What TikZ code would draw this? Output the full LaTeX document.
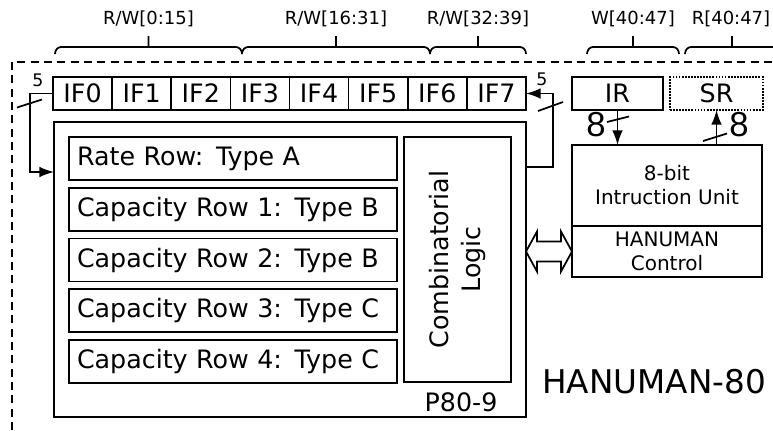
\documentclass[tikz,border=0pt]{standalone}
\usepackage{fontspec}
\setmainfont{DejaVu Sans}
\newfontfamily\busface{Liberation Sans}
\usetikzlibrary{arrows.meta, calc}
\newcommand{\rowfnt}{\fontsize{19}{24}\selectfont}
\newcommand{\labfnt}{\fontsize{13.5}{15}\selectfont}
\newcommand{\unitfnt}{\fontsize{15}{18}\selectfont}
\newcommand{\busfnt}{\busface\fontsize{26}{28}\selectfont}
\newcommand{\numfnt}{\fontsize{13}{14}\selectfont}
\newcommand{\titlefnt}{\fontsize{24.5}{28}\selectfont}

\begin{document}
\begin{tikzpicture}[x=0.75pt, y=-0.75pt,
      box/.style={draw, line width=1.3pt, inner sep=0pt, outer sep=0pt, font=\rowfnt},
      cell/.style={box, minimum width=44.34pt, minimum height=24.75pt},
      row/.style={box, minimum height=32.25pt, text width=234pt, inner xsep=6pt, align=left},
      unit/.style={box, minimum width=142.5pt, align=center, font=\unitfnt},
      lab/.style={font=\labfnt, inner sep=0pt},
      num/.style={font=\numfnt, inner sep=0pt},
      busw/.style={font=\busfnt, inner sep=0pt},
      ar/.style={-{Latex[length=11pt, width=8pt]}, line width=1.3pt},
      bus/.style={line width=1.3pt},
      brace/.style={line width=1.3pt},
      border/.style={dash pattern=on 6pt off 4pt, line width=1.1pt}
    ]
    \useasboundingbox (0,0) rectangle (773,430);

    % chip boundary
    \draw[border] (12,430) -- (12,62) -- (773,62);

    % address map
    \foreach \a/\b in {55/242, 242/430, 430/526, 587/679, 685/779}
      \draw[brace] (\a,54) to[out=90, in=180] (\a+6,47) -- (\b-6,47)
        to[out=0, in=90] (\b,54) ({(\a+\b)/2},47) -- ++(0,-11);
    \node[lab] (rw0) at (148.5,19) {R/W[0:15]};
    \node[lab] (rw1) at (336,19) {R/W[16:31]};
    \node[lab] (rw2) at (478,19) {R/W[32:39]};
    \node[lab] (w3) at (633,19) {W[40:47]};
    \node[lab] (r3) at (731,19) {R[40:47]};

    % interface registers
    \foreach \i in {0,...,7}
      \node[cell] (if\i) at ({82.56+59.125*\i},93.5) {IF\i};
    \node[cell, minimum width=68.25pt] (ir) at (617.5,93.5) {IR};
    \node[cell, minimum width=69.75pt, densely dotted] (sr) at (716.5,93.5) {SR};

    % P80-9 core
    \node[box, minimum width=354pt, minimum height=221.25pt] (p80) at (290,269.5) {};
    \foreach \i/\t in {0/Rate Row: Type A, 1/Capacity Row 1: Type B,
                       2/Capacity Row 2: Type B, 3/Capacity Row 3: Type C,
                       4/Capacity Row 4: Type C}
      \node[row] (row\i) at (233,{158.5+50.75*\i}) {\t};
    \node[box, rotate=90, minimum width=183.75pt, minimum height=80.25pt,
          align=center] (logic) at (457.5,259.5) {Combinatorial\\Logic};
    \node[box, draw=none] (p80lab) at (461,402) {P80-9};

    % instruction unit
    \node[unit, minimum height=60.75pt] (unit) at (667,185.5) {8-bit\\Intruction Unit};
    \node[unit, minimum height=38.25pt] (ctrl) at (667,251.5) {HANUMAN\\Control};

    \node[font=\titlefnt, inner sep=0pt] (title) at (654,382) {HANUMAN-80};

    % feedback buses
    \coordinate (lc) at (30,172);
    \draw[ar] (if0.west) -| (lc) -- (lc -| p80.west);
    \draw[bus] ($(lc |- if0.west)+(-13,14)$) -- ++(25,-8);
    \node[num] (n5l) at (38,80) {5};

    \coordinate (rc) at (553,167);
    \draw[ar] (rc -| p80.east) -- (rc) |- (if7.east);
    \draw[bus] ($(rc |- if7.east)+(-15,17.5)$) -- ++(25,-9);
    \node[num] (n5r) at (542,79) {5};

    % IR / SR buses
    \draw[ar] (ir.south) -- (ir.south |- unit.north);
    \draw[bus] (607,122) -- ++(22,-5.5);
    \node[busw] (n8l) at (596,125) {8};

    \draw[ar] (sr.south |- unit.north) -- (sr.south);
    \draw[bus] (703,141) -- ++(24,-7.5);
    \node[busw] (n8r) at (739,125) {8};

    % control link
    \coordinate (dl) at (p80.east |- ctrl.west);
    \coordinate (dr) at (ctrl.west);
    \draw[line width=1.3pt, line join=miter] (dl) -- ++(11,-20) -- ++(0,10) -- ++(24,0)
        -- ++(0,-10) -- (dr) -- ++(-11,20) -- ++(0,-10) -- ++(-24,0) -- ++(0,10) -- cycle;
  \end{tikzpicture}
\end{document}
